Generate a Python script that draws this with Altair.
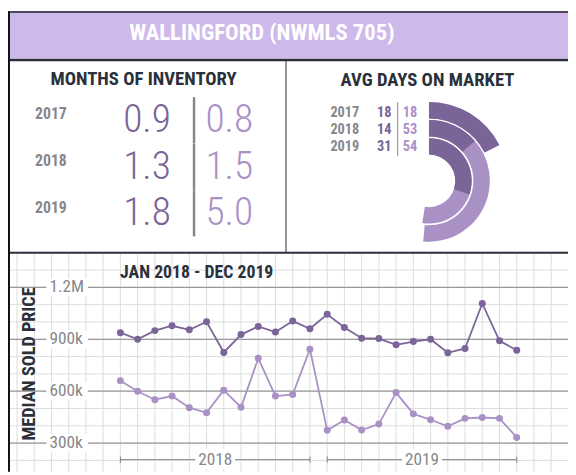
import altair as alt
import pandas as pd

# ---------------- data ----------------
TITLE = "WALLINGFORD (NWMLS 705)"
INV_TITLE = "MONTHS OF INVENTORY"
DOM_TITLE = "AVG DAYS ON MARKET"
PRICE_TITLE = "JAN 2018 - DEC 2019"
PRICE_AXIS_TITLE = "MEDIAN SOLD PRICE"

years = ["2017", "2018", "2019"]
inv_dark = [0.9, 1.3, 1.8]
inv_light = [0.8, 1.5, 5.0]
dom_dark = [18, 14, 31]
dom_light = [18, 53, 54]

month_index = list(range(24))  # Jan 2018 .. Dec 2019
price_dark = [938000, 900000, 950000, 978000, 955000, 1001000, 824000, 927000,
              974000, 942000, 1005000, 961000, 1044000, 968000, 906000, 904000,
              868000, 887000, 900000, 822000, 847000, 1107000, 891000, 837000]
price_light = [661000, 600000, 551000, 572000, 505000, 475000, 606000, 507000,
               790000, 572000, 581000, 843000, 374000, 433000, 376000, 410000,
               592000, 469000, 435000, 397000, 443000, 448000, 443000, 333000]
price_ticks = [1200000, 900000, 600000, 300000]
price_tick_labels = ["1.2M", "900k", "600k", "300k"]
bracket_years = ["2018", "2019"]
bracket_start = [0, 12]
bracket_end = [11, 23]

# ---------------- style ----------------
DARK = "#7b6498"
LIGHT = "#a991c6"
HEADER = "#cfb8ea"
INK = "#2b303b"
GRAY = "#87878b"
GRID = "#dcdcdc"
MAJOR = "#9a9a9a"
NARROW = "Roboto Condensed, Roboto, sans-serif"

W, H = 568, 467
one = pd.DataFrame({"k": [0]})

XS = alt.Scale(domain=[0, 23], range=[114, 516])
YS = alt.Scale(domain=[300000, 1200000], range=[438, 280])
TS = alt.Scale(domain=[0, 102.86], range=[0, 6.283185307])

layers = []

# ---------- frame ----------
layers.append(alt.Chart(one).mark_rect(color=HEADER).encode(
    x=alt.value(0), x2=alt.value(W), y=alt.value(0), y2=alt.value(48)))
layers.append(alt.Chart(one).mark_rule(color="#1e2028", strokeWidth=1.5).encode(
    x=alt.value(0), x2=alt.value(W), y=alt.value(0.75)))
layers.append(alt.Chart(one).mark_rule(color="#2a2e3a", strokeWidth=2.5).encode(
    x=alt.value(0), x2=alt.value(W), y=alt.value(49.3)))
layers.append(alt.Chart(one).mark_text(text=TITLE, font=NARROW, fontSize=23,
                                       fontWeight="bold", color="white",
                                       align="center", baseline="alphabetic").encode(
    x=alt.value(257.5), y=alt.value(29.5)))
layers.append(alt.Chart(one).mark_rule(color="#2a2e3a", strokeWidth=1).encode(
    x=alt.value(282), y=alt.value(50), y2=alt.value(245)))

# ---------- price grid (graph paper) ----------
vgrid = pd.DataFrame({"m": list(range(-6, 26))})
layers.append(alt.Chart(vgrid).mark_rule(color=GRID, strokeWidth=1).encode(
    x=alt.X("m:Q", scale=XS, axis=None), y=alt.value(246), y2=alt.value(H)))
hminor = pd.DataFrame({"v": [200000 + 100000 * i for i in range(12)]})
layers.append(alt.Chart(hminor).mark_rule(color=GRID, strokeWidth=1).encode(
    y=alt.Y("v:Q", scale=YS, axis=None), x=alt.value(0), x2=alt.value(W)))
ticks_df = pd.DataFrame({"v": price_ticks, "label": price_tick_labels})
layers.append(alt.Chart(ticks_df).mark_rule(color=MAJOR, strokeWidth=1.3).encode(
    y=alt.Y("v:Q", scale=YS, axis=None), x=alt.value(0), x2=alt.value(W)))
layers.append(alt.Chart(one).mark_rule(color="#2a2e3a", strokeWidth=2).encode(
    x=alt.value(0), x2=alt.value(W), y=alt.value(245)))
layers.append(alt.Chart(ticks_df).transform_calculate(
    lo="datum.v - 52000", hi="datum.v + 52000").mark_rect(color="white").encode(
    y=alt.Y("lo:Q", scale=YS, axis=None), y2="hi:Q",
    x=alt.value(39), x2=alt.value(81)))
layers.append(alt.Chart(ticks_df).mark_text(font=NARROW, fontSize=17.5, color=GRAY,
                                            align="left", baseline="middle").encode(
    y=alt.Y("v:Q", scale=YS, axis=None), x=alt.value(42), text="label:N"))

# titles of price chart
layers.append(alt.Chart(one).mark_text(text=PRICE_TITLE, font=NARROW, fontSize=18,
                                       fontWeight="bold", color=INK, align="left",
                                       baseline="alphabetic").encode(
    x=alt.value(113.7), y=alt.value(270.3)))
layers.append(alt.Chart(one).mark_text(text=PRICE_AXIS_TITLE, font=NARROW, fontSize=18.5,
                                       fontWeight="bold", color=INK, align="center",
                                       baseline="alphabetic", angle=270).encode(
    x=alt.value(27.5), y=alt.value(357.7)))

# year brackets
br = pd.DataFrame({"year": bracket_years, "s": bracket_start, "e": bracket_end})
layers.append(alt.Chart(br).mark_rule(color=GRAY, strokeWidth=1).encode(
    x=alt.X("s:Q", scale=XS, axis=None), x2="e:Q", y=alt.value(454.7)))
layers.append(alt.Chart(br).mark_rule(color=GRAY, strokeWidth=1).encode(
    x=alt.X("s:Q", scale=XS, axis=None), y=alt.value(451.5), y2=alt.value(458)))
layers.append(alt.Chart(br).mark_rule(color=GRAY, strokeWidth=1).encode(
    x=alt.X("e:Q", scale=XS, axis=None), y=alt.value(451.5), y2=alt.value(458)))
layers.append(alt.Chart(br).transform_calculate(
    lo="(datum.s + datum.e) / 2 - 1.16", hi="(datum.s + datum.e) / 2 + 1.16").mark_rect(
    color="white").encode(
    x=alt.X("lo:Q", scale=XS, axis=None), x2="hi:Q", y=alt.value(444), y2=alt.value(464)))
layers.append(alt.Chart(br).transform_calculate(mid="(datum.s + datum.e) / 2").mark_text(
    font=NARROW, fontSize=17.5, color=GRAY, align="center", baseline="alphabetic").encode(
    x=alt.X("mid:Q", scale=XS, axis=None), y=alt.value(460.5), text="year:N"))

# lines and points
price_df = pd.DataFrame({
    "month": month_index * 2,
    "series": ["dark"] * 24 + ["light"] * 24,
    "price": price_dark + price_light,
})
CS = alt.Scale(domain=["dark", "light"], range=[DARK, LIGHT])
layers.append(alt.Chart(price_df).mark_line(strokeWidth=1.8).encode(
    x=alt.X("month:Q", scale=XS, axis=None),
    y=alt.Y("price:Q", scale=YS, axis=None),
    color=alt.Color("series:N", scale=CS, legend=None),
    detail="series:N"))
layers.append(alt.Chart(price_df).mark_circle(size=50, opacity=1).encode(
    x=alt.X("month:Q", scale=XS, axis=None),
    y=alt.Y("price:Q", scale=YS, axis=None),
    color=alt.Color("series:N", scale=CS, legend=None)))

# ---------- months of inventory ----------
inv = pd.DataFrame({"year": years, "row": [0, 1, 2], "dark": inv_dark, "light": inv_light})
ROW_Y = alt.Scale(domain=[0, 2], range=[109.3, 204.7])
ROW_N = alt.Scale(domain=[0, 2], range=[122.7, 217.0])
layers.append(alt.Chart(one).mark_text(text=INV_TITLE, font=NARROW, fontSize=19,
                                       fontWeight="bold", color=INK, align="center",
                                       baseline="alphabetic").encode(
    x=alt.value(137.5), y=alt.value(74.7)))
layers.append(alt.Chart(inv).mark_text(font=NARROW, fontSize=16, fontWeight="bold",
                                       color=GRAY, align="center",
                                       baseline="alphabetic").encode(
    x=alt.value(43.5), y=alt.Y("row:Q", scale=ROW_Y, axis=None), text="year:N"))
layers.append(alt.Chart(inv).mark_text(font=NARROW, fontSize=40, fontWeight=300,
                                       color=DARK, align="right",
                                       baseline="alphabetic").encode(
    x=alt.value(165.3), y=alt.Y("row:Q", scale=ROW_N, axis=None),
    text=alt.Text("dark:Q", format=".1f")))
layers.append(alt.Chart(inv).mark_text(font=NARROW, fontSize=40, fontWeight=300,
                                       color=LIGHT, align="right",
                                       baseline="alphabetic").encode(
    x=alt.value(248.7), y=alt.Y("row:Q", scale=ROW_N, axis=None),
    text=alt.Text("light:Q", format=".1f")))
layers.append(alt.Chart(inv).transform_calculate(
    lo="datum.row - 0.755", hi="datum.row + 0.24").mark_rule(
    color=GRAY, strokeWidth=2.5).encode(
    x=alt.value(188.7), y=alt.Y("lo:Q", scale=ROW_N, axis=None), y2="hi:Q"))

# ---------- avg days on market ----------
dom = pd.DataFrame({"year": years, "row": [0, 1, 2], "dark": dom_dark,
                    "light": dom_light, "zero": [0, 0, 0]})
ROW_D = alt.Scale(domain=[0, 2], range=[107, 141.3])
layers.append(alt.Chart(one).mark_text(text=DOM_TITLE, font=NARROW, fontSize=19,
                                       fontWeight="bold", color=INK, align="center",
                                       baseline="alphabetic").encode(
    x=alt.value(425.5), y=alt.value(75.3)))
layers.append(alt.Chart(dom).mark_text(font=NARROW, fontSize=14.5, fontWeight="bold",
                                       color=GRAY, align="left",
                                       baseline="alphabetic").encode(
    x=alt.value(327), y=alt.Y("row:Q", scale=ROW_D, axis=None), text="year:N"))
layers.append(alt.Chart(dom).mark_text(font=NARROW, fontSize=14.5, fontWeight="bold",
                                       color=DARK, align="right",
                                       baseline="alphabetic").encode(
    x=alt.value(389), y=alt.Y("row:Q", scale=ROW_D, axis=None), text="dark:Q"))
layers.append(alt.Chart(dom).mark_text(font=NARROW, fontSize=14.5, fontWeight="bold",
                                       color=LIGHT, align="left",
                                       baseline="alphabetic").encode(
    x=alt.value(400.3), y=alt.Y("row:Q", scale=ROW_D, axis=None), text="light:Q"))
layers.append(alt.Chart(one).mark_rule(color=GRAY, strokeWidth=1).encode(
    x=alt.value(395.3), y=alt.value(92), y2=alt.value(147)))

RINGS = [(80, 63.3), (61.7, 45), (43.3, 26.7)]
for i, (ro, ri) in enumerate(RINGS):
    base = alt.Chart(dom).transform_filter(alt.datum.row == i)
    layers.append(base.mark_arc(color=LIGHT).encode(
        theta=alt.Theta("zero:Q", scale=TS, stack=None), theta2="light:Q",
        radius=alt.value(ro), radius2=alt.value(ri),
        x=alt.value(427), y=alt.value(172)))
    layers.append(base.mark_arc(color=DARK).encode(
        theta=alt.Theta("zero:Q", scale=TS, stack=None), theta2="dark:Q",
        radius=alt.value(ro), radius2=alt.value(ri),
        x=alt.value(427), y=alt.value(172)))

# left border
layers.append(alt.Chart(one).mark_rule(color="#111111", strokeWidth=2).encode(
    x=alt.value(1), y=alt.value(0), y2=alt.value(H)))

chart = alt.layer(*layers).resolve_scale(
    x="independent", y="independent", color="independent",
    theta="independent", radius="independent"
).properties(
    width=W, height=H, padding=0,
    autosize=alt.AutoSizeParams(type="none"), background="white"
).configure_view(stroke=None)

chart.save("out.html", embed_options={"renderer": "svg", "actions": False})
